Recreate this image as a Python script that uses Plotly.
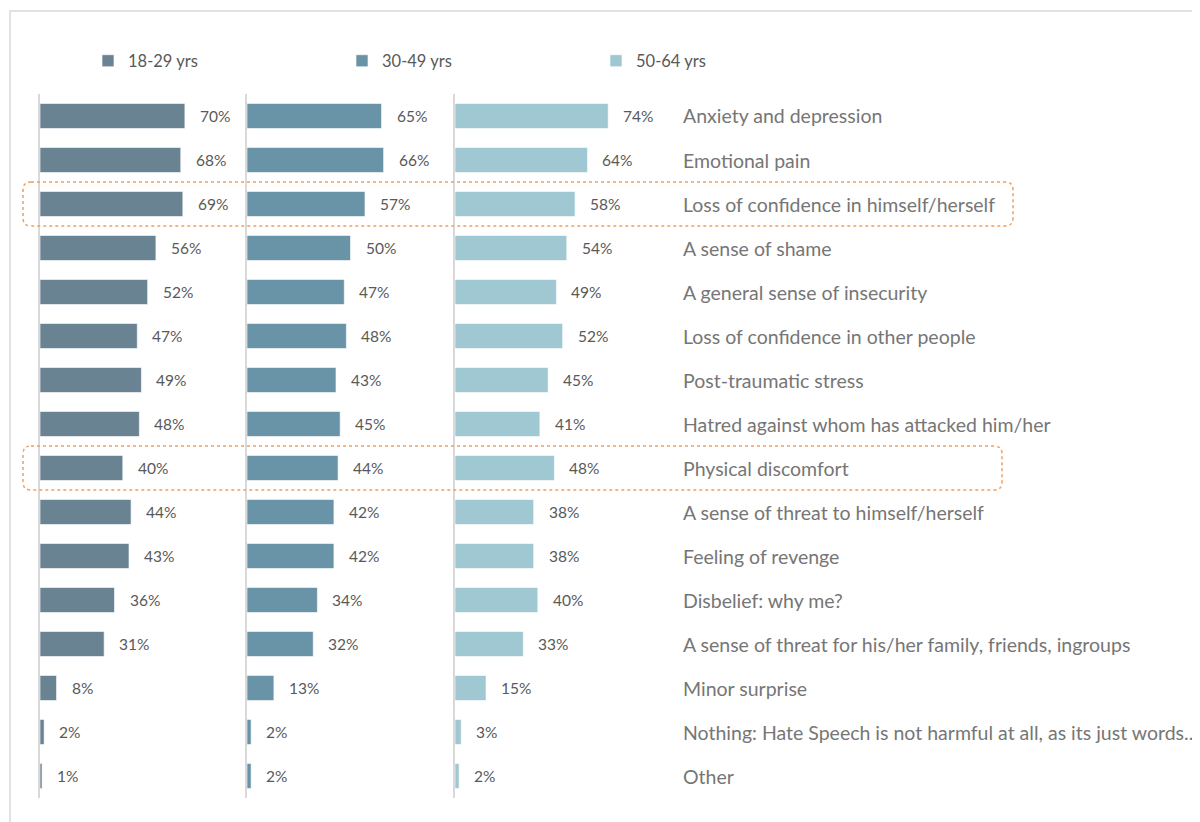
import plotly.graph_objects as go
from plotly.subplots import make_subplots

categories = [
    "Anxiety and depression",
    "Emotional pain",
    "Loss of confidence in himself/herself",
    "A sense of shame",
    "A general sense of insecurity",
    "Loss of confidence in other people",
    "Post-traumatic stress",
    "Hatred against whom has attacked him/her",
    "Physical discomfort",
    "A sense of threat to himself/herself",
    "Feeling of revenge",
    "Disbelief: why me?",
    "A sense of threat for his/her family, friends, ingroups",
    "Minor surprise",
    "Nothing: Hate Speech is not harmful at all, as its just words..",
    "Other",
]
age_18_29 = [70, 68, 69, 56, 52, 47, 49, 48, 40, 44, 43, 36, 31, 8, 2, 1]
age_30_49 = [65, 66, 57, 50, 47, 48, 43, 45, 44, 42, 42, 34, 32, 13, 2, 2]
age_50_64 = [74, 64, 58, 54, 49, 52, 45, 41, 48, 38, 38, 40, 33, 15, 3, 2]
series_names = ["18-29 yrs", "30-49 yrs", "50-64 yrs"]
series_values = [age_18_29, age_30_49, age_50_64]
highlighted = ["Loss of confidence in himself/herself", "Physical discomfort"]

colors = ["#6A8393", "#6993A6", "#A0C8D2"]
FONT = "Lato"
W, H = 1200, 822
OX, OY = 8, 8  # page body margin


def px_x(p):
    return (p - OX) / W


def px_y(p):
    return 1 - (p - OY) / H


fig = make_subplots(rows=1, cols=3, shared_yaxes=True, horizontal_spacing=0)

for k, (name, vals) in enumerate(zip(series_names, series_values)):
    fig.add_trace(
        go.Bar(
            x=vals, y=categories, orientation="h", name=name,
            marker=dict(color=colors[k], line=dict(color="rgba(255,255,255,0.6)", width=1)),
            hovertemplate="%{y}: %{x}%<extra>" + name + "</extra>",
        ),
        row=1, col=k + 1,
    )
    xa = "x" if k == 0 else f"x{k+1}"
    for c, v in zip(categories, vals):
        fig.add_annotation(
            x=v, y=c, xref=xa, yref="y", text=f"{v}%", showarrow=False,
            xanchor="left", xshift=13,
            font=dict(family=FONT, size=15.5, color="#595959"),
        )

# layout geometry in pixels
px_domains = [(40, 247), (247, 454), (455, 662)]
y_top, y_bot = 94, 798
ydom = [px_y(y_bot), px_y(y_top)]

for k, (a, b) in enumerate(px_domains):
    key = "xaxis" if k == 0 else f"xaxis{k+1}"
    fig.layout[key].update(domain=[px_x(a), px_x(b)], range=[0, 100], visible=False, fixedrange=True)
    ykey = "yaxis" if k == 0 else f"yaxis{k+1}"
    fig.layout[ykey].update(
        domain=ydom, showline=True, linecolor="#D9D9D9", linewidth=2,
        showticklabels=False, ticks="", showgrid=False, zeroline=False,
        categoryorder="array", categoryarray=categories, autorange="reversed",
    )

# category labels on the right
for c in categories:
    fig.add_annotation(
        x=px_x(681), y=c, xref="paper", yref="y", text=c, showarrow=False,
        xanchor="left", font=dict(family=FONT, size=19.5, color="#767676"),
    )

# rounded dotted highlight boxes
n = len(categories)


def row_paper(i_edge):
    return ydom[1] - i_edge / n * (ydom[1] - ydom[0])


box_right_px = {"Loss of confidence in himself/herself": 1013, "Physical discomfort": 1002}
for c in highlighted:
    i = categories.index(c)
    x0, x1 = px_x(23), px_x(box_right_px[c])
    yt, yb = row_paper(i), row_paper(i + 1)
    rx, ry = 8 / W, 8 / H
    path = (
        f"M{x0+rx},{yt} L{x1-rx},{yt} Q{x1},{yt} {x1},{yt-ry} "
        f"L{x1},{yb+ry} Q{x1},{yb} {x1-rx},{yb} "
        f"L{x0+rx},{yb} Q{x0},{yb} {x0},{yb+ry} "
        f"L{x0},{yt-ry} Q{x0},{yt} {x0+rx},{yt} Z"
    )
    fig.add_shape(type="path", path=path, xref="paper", yref="paper",
                  line=dict(color="#F0A060", width=1.5, dash="dot"))

# outer frame
fig.add_shape(type="rect", xref="paper", yref="paper",
              x0=px_x(10), y0=-0.05, x1=1.05, y1=px_y(11),
              line=dict(color="#D9D9D9", width=1.5))

fig.update_layout(
    width=W, height=H,
    margin=dict(l=0, r=0, t=0, b=0),
    paper_bgcolor="white", plot_bgcolor="white",
    barmode="group", bargap=0.43,
    showlegend=True,
    legend=dict(
        orientation="h", x=px_x(88), xanchor="left", y=px_y(61), yanchor="middle",
        font=dict(family=FONT, size=16.5, color="#595959"),
        entrywidth=209, entrywidthmode="pixels", itemwidth=30,
        bgcolor="rgba(0,0,0,0)",
    ),
    font=dict(family=FONT, color="#595959"),
)

fig.write_html("out.html")
